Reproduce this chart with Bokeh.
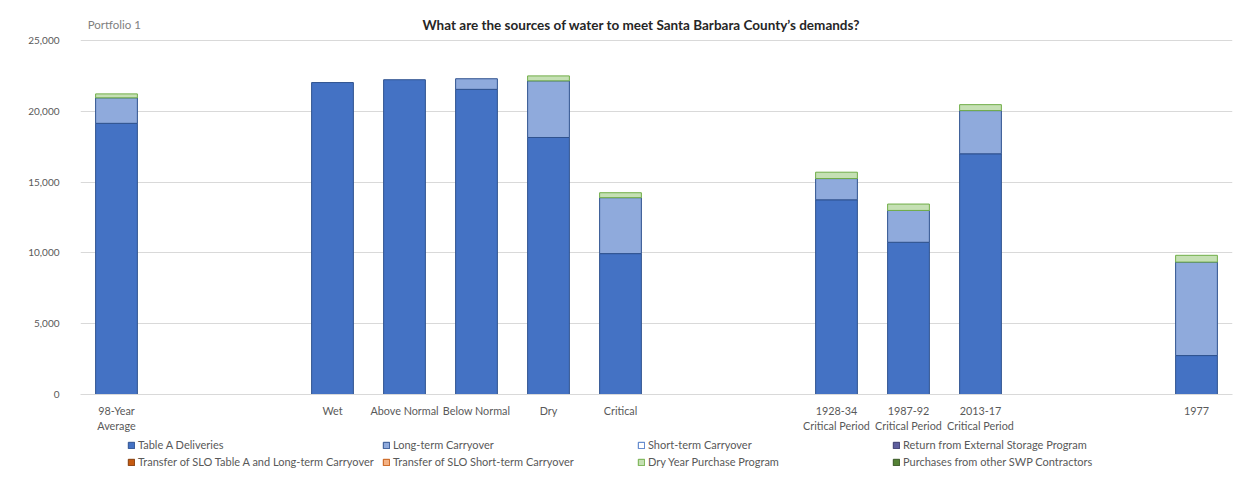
import numpy as np
from bokeh.plotting import figure
from bokeh.layouts import column
from bokeh.models import (ColumnDataSource, FactorRange, Range1d, NumeralTickFormatter,
                          Legend, LegendItem, Label)
from bokeh.embed import file_html
from bokeh.resources import INLINE

# ---------------- data ----------------
categories = ["98-Year\nAverage", " ", "  ", "Wet", "Above Normal", "Below Normal", "Dry", "Critical",
              "   ", "    ", "1928-34\nCritical Period", "1987-92\nCritical Period",
              "2013-17\nCritical Period", "     ", "      ", "1977"]

table_a_deliveries = [19150, 0, 0, 22030, 22230, 21550, 18150, 9950, 0, 0, 13750, 10750, 17000, 0, 0, 2750]
long_term_carryover = [1800, 0, 0, 0, 0, 750, 4000, 3950, 0, 0, 1500, 2250, 3050, 0, 0, 6600]
short_term_carryover = [0] * 16
return_external_storage = [0] * 16
transfer_slo_table_a = [0] * 16
transfer_slo_short_term = [0] * 16
dry_year_purchase = [280, 0, 0, 0, 0, 0, 350, 350, 0, 0, 450, 450, 420, 0, 0, 480]
purchases_other_swp = [0] * 16

series_names = ["Table A Deliveries", "Long-term Carryover", "Short-term Carryover",
                "Return from External Storage Program", "Transfer of SLO Table A and Long-term Carryover",
                "Transfer of SLO Short-term Carryover", "Dry Year Purchase Program",
                "Purchases from other SWP Contractors"]
series_values = [table_a_deliveries, long_term_carryover, short_term_carryover, return_external_storage,
                 transfer_slo_table_a, transfer_slo_short_term, dry_year_purchase, purchases_other_swp]
fill_colors = ["#4472C4", "#8FAADC", "#FFFFFF", "#5E5E9E", "#C55A11", "#F4B183", "#C5E0B4", "#548235"]
line_colors = ["#2F528F", "#2F528F", "#4472C4", "#3B3B6E", "#843C0C", "#C55A11", "#70AD47", "#385723"]

title_text = "What are the sources of water to meet Santa Barbara County\u2019s demands?"
portfolio_text = "Portfolio 1"
FONT = "Lato"
GREY = "#595959"

# ---------------- main chart ----------------
p = figure(width=1234, height=435, x_range=FactorRange(*categories), y_range=Range1d(0, 27684),
           output_backend="svg", toolbar_location=None,
           min_border_left=80, min_border_right=2, min_border_top=2, min_border_bottom=41)
p.background_fill_color = "white"
p.border_fill_color = "white"
p.outline_line_color = None

n = len(categories)
bottom = np.zeros(n)
for name, vals, fc, lc in zip(series_names, series_values, fill_colors, line_colors):
    v = np.array(vals, dtype=float)
    top = bottom + v
    idx = [i for i in range(n) if v[i] > 0]
    src = ColumnDataSource(dict(x=[categories[i] for i in idx],
                                bottom=[bottom[i] for i in idx],
                                top=[top[i] for i in idx]))
    p.vbar(x="x", bottom="bottom", top="top", width=0.58, source=src,
           fill_color=fc, line_color=lc, line_width=1)
    bottom = top

p.yaxis.formatter = NumeralTickFormatter(format="0,0")
p.yaxis.ticker = [0, 5000, 10000, 15000, 20000, 25000]
p.yaxis.axis_line_color = None
p.yaxis.major_tick_line_color = None
p.yaxis.minor_tick_line_color = None
p.yaxis.major_label_text_color = GREY
p.yaxis.major_label_text_font = FONT
p.yaxis.major_label_text_font_size = "10px"
p.yaxis.major_label_standoff = 15

p.xaxis.axis_line_color = "#D9D9D9"
p.xaxis.major_tick_line_color = None
p.xaxis.minor_tick_line_color = None
p.xaxis.major_label_text_color = GREY
p.xaxis.major_label_text_font = FONT
p.xaxis.major_label_text_font_size = "10.8px"
p.xaxis.major_label_standoff = 3

p.xgrid.grid_line_color = None
p.ygrid.grid_line_color = "#D9D9D9"

p.add_layout(Label(x=7.79, y=26130, text=title_text, text_font=FONT, text_font_size="13.5px",
                   text_font_style="bold", text_color="#262626", text_align="center",
                   text_baseline="middle"))
p.add_layout(Label(x=0.1, y=26130, text=portfolio_text, text_font=FONT, text_font_size="11.5px",
                   text_color="#7F7F7F", text_align="left", text_baseline="middle"))

# ---------------- legend strip ----------------
lg = figure(width=1234, height=33, x_range=Range1d(0, 1), y_range=Range1d(0, 1),
            x_axis_type=None, y_axis_type=None, output_backend="svg", toolbar_location=None,
            min_border_left=0, min_border_right=0, min_border_top=0, min_border_bottom=0)
lg.outline_line_color = None
lg.grid.visible = False
leg_renderers = []
for fc, lc in zip(fill_colors, line_colors):
    # one off-screen bar so the legend swatch has something to draw from
    r = lg.vbar(x=[-10], top=[0], bottom=[0], width=0.5, fill_color=fc, line_color=lc, line_width=1)
    leg_renderers.append(r)

cols = [(0, 4), (1, 5), (2, 6), (3, 7)]
xs = [47, 302, 557, 812]
for (a, b), lx in zip(cols, xs):
    leg = Legend(items=[LegendItem(label=series_names[a], renderers=[leg_renderers[a]]),
                        LegendItem(label=series_names[b], renderers=[leg_renderers[b]])],
                 location=(lx, 0), orientation="vertical",
                 padding=0, margin=0, spacing=4, border_line_color=None,
                 background_fill_alpha=0, glyph_width=8, glyph_height=8,
                 label_height=10, label_standoff=3,
                 label_text_font=FONT, label_text_font_size="11px", label_text_color=GREY)
    lg.add_layout(leg, "center")

layout = column(p, lg, spacing=0)
open("out.html", "w").write(file_html(layout, INLINE))
